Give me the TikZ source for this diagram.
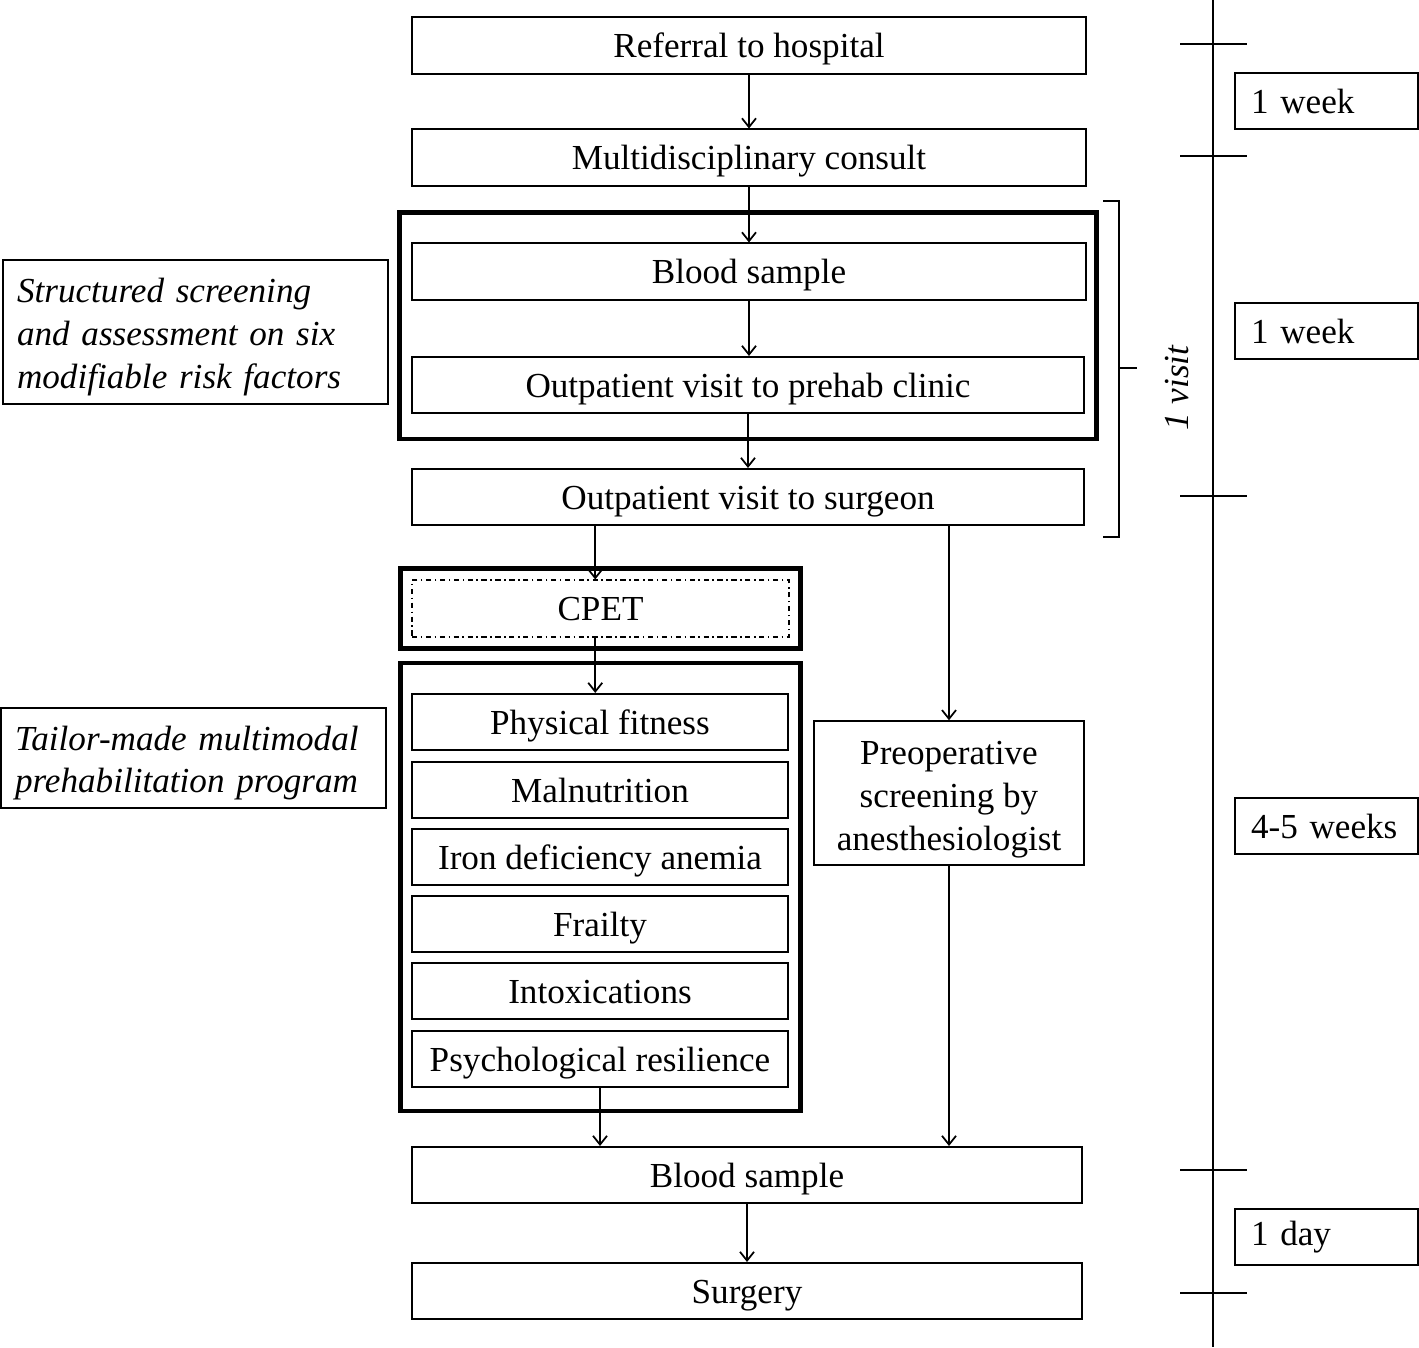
\documentclass[tikz,border=0pt]{standalone}
\usepackage{fontspec}
\setmainfont{Liberation Serif}
\usetikzlibrary{calc, positioning, arrows.meta}
\newcommand{\linelift}{\rule{0pt}{19.6pt}}

\begin{document}
\begin{tikzpicture}[x=0.02cm, y=-0.02cm, >={Straight Barb[length=5pt, width=8pt]}, line width=1pt,
		font=\fontsize{20}{24.4}\selectfont,
		stepbox/.style={draw, line width=0.9pt, inner sep=0pt, minimum height=1.13cm, text height=17pt, text depth=2.8pt},
		widebox/.style={stepbox, minimum width=13.48cm},
		riskbox/.style={stepbox, minimum width=7.52cm},
		notebox/.style={draw, line width=0.9pt, align=left, inner xsep=0.28cm, text width=7.14cm, minimum width=7.7cm, font=\fontsize{20}{24.4}\selectfont\itshape},
		timebox/.style={draw, line width=0.9pt, align=left, inner xsep=0.32cm, text width=3.02cm, minimum width=3.66cm, minimum height=1.12cm},
		groupbox/.style={draw, line width=2.6pt}]
		\useasboundingbox (0,0) rectangle (1419,1347);

		\node[widebox] (referral) at (749,45.5) {Referral to hospital};
		\node[widebox] (consult) at (749,157.5) {Multidisciplinary consult};
		\node[widebox] (blood1) at (749,271.5) {Blood sample};
		\node[widebox, minimum width=13.44cm] (prehab) at (748,385) {Outpatient visit to prehab clinic};
		\node[widebox, minimum width=13.44cm] (surgeon) at (748,497) {Outpatient visit to surgeon};

		\node[stepbox, dash dot, minimum width=7.54cm] (cpet) at (600.5,608.5) {CPET};

		\node[riskbox] (fitness) at (600,722) {Physical fitness};
		\node[riskbox] (malnutrition) at (600,790) {Malnutrition};
		\node[riskbox] (iron) at (600,857) {Iron deficiency anemia};
		\node[riskbox] (frailty) at (600,924) {Frailty};
		\node[riskbox] (intox) at (600,991) {Intoxications};
		\node[riskbox] (psych) at (600,1059) {Psychological resilience};

		\node[draw, line width=0.9pt, inner sep=0pt, align=center, minimum width=5.4cm, minimum height=2.88cm] (preop) at (949,793) {\rule{0pt}{20.4pt}Preoperative\\screening by\\anesthesiologist};

		\node[widebox, minimum width=13.4cm] (blood2) at (747,1175) {Blood sample};
		\node[widebox, minimum width=13.4cm] (surgery) at (747,1291) {Surgery};

		\node[notebox, minimum height=2.88cm] (screening) at (195.5,332) {\linelift Structured screening\\and assessment on six\\modifiable risk factors};
		\node[notebox, minimum height=2cm] (program) at (193.5,758) {\linelift Tailor-made multimodal\\prehabilitation program};

		% thick frames
		\draw[groupbox] ($(blood1.north west)+(-12,-30)$) rectangle ($(prehab.south east)+(12,25)$);
		\draw[groupbox] ($(cpet.north west)+(-11,-11)$) rectangle ($(cpet.south east)+(11,11)$);
		\draw[groupbox] ($(fitness.north west)+(-11,-30)$) rectangle ($(psych.south east)+(12,23)$);

		% flow
		\draw[->] (referral) -- (consult);
		\draw[->] (consult) -- (blood1);
		\draw[->] (blood1.south) -- (blood1.south |- prehab.north);
		\draw[->] (prehab) -- (surgeon);
		\draw[->] ([xshift=-3]cpet.north |- surgeon.south) -- ([xshift=-3]cpet.north);
		\draw[->] ([xshift=-3]cpet.south) -- ([xshift=-3]cpet.south |- fitness.north);
		\draw[->] (preop.north |- surgeon.south) -- (preop.north);
		\draw[->] (psych.south) -- (psych.south |- blood2.north);
		\draw[->] (preop.south) -- (preop.south |- blood2.north);
		\draw[->] (blood2) -- (surgery);

		% bracket for the single visit
		\draw[line width=0.9pt] (1103,201) -| (1119,537) -- (1103,537);
		\draw[line width=0.9pt] (1119,368) -- (1137,368);
		\node[rotate=90, font=\fontsize{20}{24.4}\selectfont\itshape] (visit) at (1177,388) {1 visit};

		% time line
		\draw[line width=1.1pt] (1213,0) -- (1213,1347);
		\foreach \ty in {44,156,496,1170,1293}
			\draw[line width=0.9pt] (1180,\ty) -- (1247,\ty);

		\node[timebox] (week1) at (1326.5,101) {1 week};
		\node[timebox] (week2) at (1326.5,331) {1 week};
		\node[timebox] (weeks) at (1326.5,826) {4-5 weeks};
		\node[timebox] (day) at (1326.5,1237) {1 day};

	\end{tikzpicture}
\end{document}
